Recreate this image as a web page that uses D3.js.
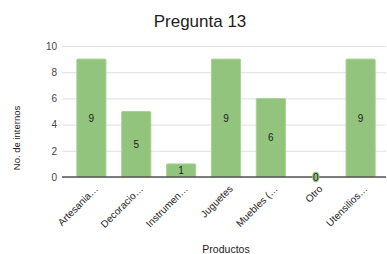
<!DOCTYPE html>
<html>
<head>
<meta charset="utf-8">
<script src="https://cdn.jsdelivr.net/npm/d3@7"></script>
<style>
    body { margin: 0; background: #fff; }
    svg { display: block; font-family: "Liberation Sans", Arial, sans-serif; }
    .tick text { fill: #444; font-size: 10px; }
</style>
</head>
<body>
<svg id="chart" width="387" height="254"></svg>
<script>
// data
const categories = ["Artesania…", "Decoracio…", "Instrumen…", "Juguetes", "Muebles (…", "Otro", "Utensilios…"];
const values = [9, 5, 1, 9, 6, 0, 9];
const yTicks = [0, 2, 4, 6, 8, 10];

const svg = d3.select("#chart");

const plotLeft = 62, plotRight = 386, plotTop = 46, plotBottom = 177;

const x = d3.scaleBand()
    .domain(categories)
    .range([plotLeft, plotRight + 4])
    .paddingInner(0.35)
    .paddingOuter(0.33);

const y = d3.scaleLinear()
    .domain([0, 10])
    .range([plotBottom, plotTop]);

// gridlines + y tick labels
const yAxis = svg.append("g")
    .attr("transform", `translate(${plotLeft},0)`)
    .call(d3.axisLeft(y).tickValues(yTicks).tickSize(-(plotRight - plotLeft)).tickPadding(5));
yAxis.select(".domain").remove();
yAxis.selectAll(".tick line").attr("stroke", "#e0e0e0");

// bars
svg.selectAll("rect.bar")
    .data(values)
    .enter().append("rect")
    .attr("class", "bar")
    .attr("x", (d, i) => x(categories[i]))
    .attr("y", d => y(d))
    .attr("width", x.bandwidth())
    .attr("height", d => plotBottom - y(d))
    .attr("rx", 1)
    .attr("fill", "#93c47d")
    .attr("stroke", "#a9d395")
    .attr("stroke-width", 1);

// baseline
svg.append("line")
    .attr("x1", plotLeft).attr("x2", plotRight)
    .attr("y1", plotBottom).attr("y2", plotBottom)
    .attr("stroke", "#555")
    .attr("stroke-width", 1.5);

// value labels
svg.selectAll("text.val")
    .data(values)
    .enter().append("text")
    .attr("class", "val")
    .attr("x", (d, i) => x(categories[i]) + x.bandwidth() / 2)
    .attr("y", d => (y(d) + plotBottom) / 2)
    .attr("dy", "0.35em")
    .attr("text-anchor", "middle")
    .attr("font-size", 10)
    .attr("fill", "#222")
    .attr("stroke", d => d === 0 ? "#93c47d" : "none")
    .attr("stroke-width", 2.5)
    .attr("paint-order", "stroke")
    .text(d => d);

// category labels
svg.selectAll("text.cat")
    .data(categories)
    .enter().append("text")
    .attr("class", "cat")
    .attr("transform", d => `translate(${x(d) + x.bandwidth() / 2 + 5},${plotBottom + 10}) rotate(-45)`)
    .attr("text-anchor", "end")
    .attr("dy", "0.35em")
    .attr("font-size", 10)
    .attr("fill", "#222")
    .text(d => d);

// title
svg.append("text")
    .attr("x", 200)
    .attr("y", 27)
    .attr("text-anchor", "middle")
    .attr("font-size", 17)
    .attr("fill", "#222")
    .text("Pregunta 13");

// axis titles
svg.append("text")
    .attr("transform", "translate(20,138) rotate(-90)")
    .attr("text-anchor", "middle")
    .attr("font-size", 9.5)
    .attr("fill", "#222")
    .text("No. de internos");

svg.append("text")
    .attr("x", 226)
    .attr("y", 253)
    .attr("text-anchor", "middle")
    .attr("font-size", 10.5)
    .attr("fill", "#222")
    .text("Productos");
</script>
</body>
</html>
